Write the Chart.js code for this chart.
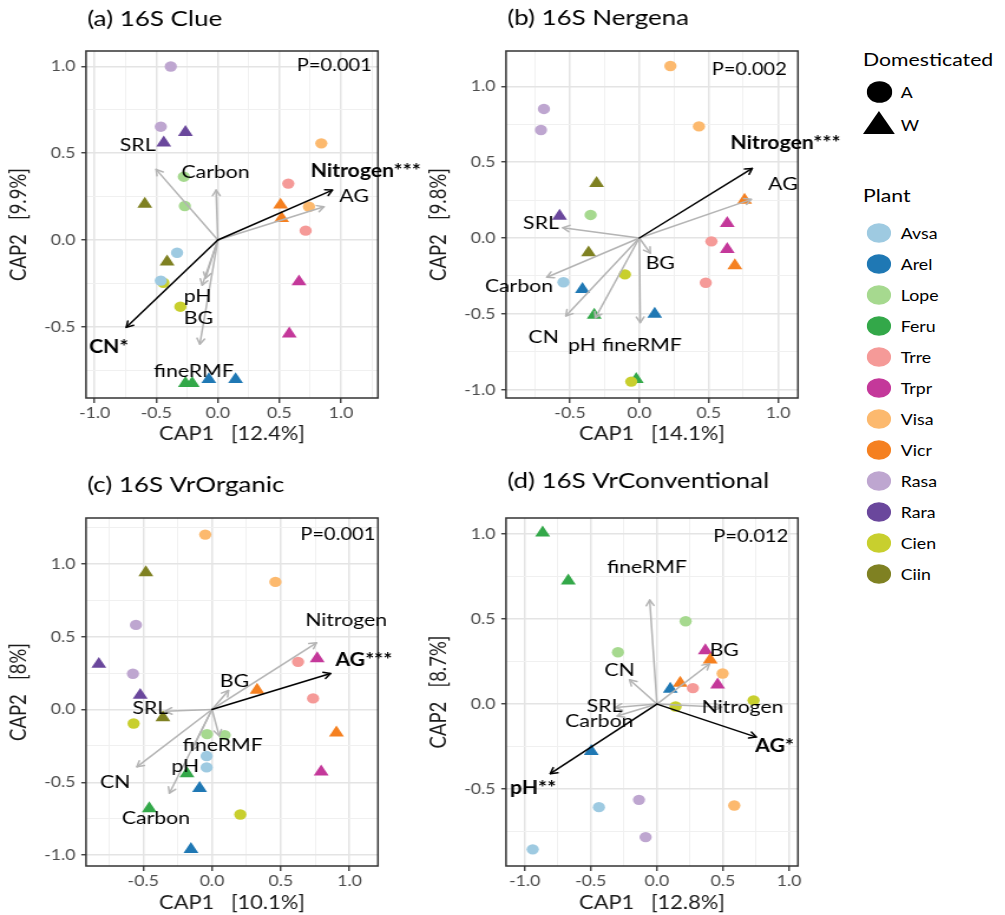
<!DOCTYPE html>
<html>
<head>
<meta charset="utf-8">
<title>16S CAP biplots</title>
<script src="https://cdn.jsdelivr.net/npm/chart.js@4.4.1/dist/chart.umd.min.js"></script>
<style>
  html, body { margin: 0; padding: 0; background: #ffffff; }
  body { width: 1005px; height: 915px; position: relative; overflow: hidden; font-family: Lato, "Open Sans", sans-serif; }
  /* the whole figure is drawn at a 1.18 horizontal aspect */
  .wide { position: absolute; transform: scaleX(1.18); transform-origin: 0 0; }
  .wide canvas { display: block; }
  .leg-title { position: absolute; font-size: 18px; color: #000; line-height: 22px; white-space: nowrap; }
  .leg-text { position: absolute; font-size: 15px; color: #000; line-height: 18px; white-space: nowrap; }
  .leg-key { position: absolute; }
</style>
</head>
<body>
<div class="wide" style="left:0px;top:0px"><canvas id="panelA" width="373" height="446"></canvas></div>
<div class="wide" style="left:420px;top:0px"><canvas id="panelB" width="373" height="446"></canvas></div>
<div class="wide" style="left:0px;top:460px"><canvas id="panelC" width="373" height="455"></canvas></div>
<div class="wide" style="left:420px;top:460px"><canvas id="panelD" width="373" height="455"></canvas></div>
<div class="wide" id="legend" style="left:863px;top:0px;width:120px;height:620px"></div>

<script>
// ---- plants and their colours ----
const plants = ['Avsa', 'Arel', 'Lope', 'Feru', 'Trre', 'Trpr', 'Visa', 'Vicr', 'Rasa', 'Rara', 'Cien', 'Ciin'];
const domesticated = ['A', 'W', 'A', 'W', 'A', 'W', 'A', 'W', 'A', 'W', 'A', 'W'];
const plantColours = ['#9ecae1', '#1f78b4', '#a6d98f', '#33a849', '#f59a98', '#c4389a',
                      '#fcb96e', '#f58020', '#bea6d0', '#6a479c', '#c8cf2e', '#7f8122'];
const domesticationLevels = ['A', 'W'];

// ---- (a) 16S Clue ----
const clueCap1 = [-0.382, -0.463, -0.263, -0.439, 0.84, 0.74, -0.276, -0.268, -0.593, -0.412, 0.572, 0.713,
                  0.509, 0.518, -0.442, -0.304, -0.331, -0.463, 0.659, 0.58, -0.263, -0.208, -0.073, 0.144];
const clueCap2 = [1.0, 0.653, 0.62, 0.56, 0.557, 0.192, 0.365, 0.196, 0.207, -0.125, 0.325, 0.054,
                  0.202, 0.125, -0.246, -0.384, -0.073, -0.234, -0.24, -0.54, -0.826, -0.826, -0.803, -0.803];
const cluePlant = ['Rasa', 'Rasa', 'Rara', 'Rara', 'Visa', 'Visa', 'Lope', 'Lope', 'Ciin', 'Ciin', 'Trre', 'Trre',
                   'Vicr', 'Vicr', 'Cien', 'Cien', 'Avsa', 'Avsa', 'Trpr', 'Trpr', 'Feru', 'Feru', 'Arel', 'Arel'];
const clueVectors = ['SRL', 'Carbon', 'Nitrogen***', 'AG', 'CN*', 'pH', 'BG', 'fineRMF'];
const clueVecCap1 = [-0.501, -0.014, 0.93, 0.862, -0.743, -0.127, -0.146, -0.10];
const clueVecCap2 = [0.407, 0.288, 0.288, 0.192, -0.503, -0.26, -0.6, -0.22];
const clueLabelCap1 = [-0.65, -0.019, 1.2, 1.106, -0.886, -0.163, -0.157, -0.195];
const clueLabelCap2 = [0.544, 0.388, 0.394, 0.254, -0.615, -0.323, -0.451, -0.753];

// ---- (b) 16S Nergena ----
const nergenaCap1 = [0.224, 0.43, -0.688, -0.709, -0.308, -0.366, -0.351, -0.575, 0.759, 0.689, 0.634, 0.634,
                     0.52, 0.479, -0.547, -0.41, 0.111, -0.325, -0.022, -0.104, -0.058];
const nergenaCap2 = [1.134, 0.736, 0.851, 0.712, 0.36, -0.097, 0.152, 0.145, 0.25, -0.182, 0.097, -0.075,
                     -0.022, -0.295, -0.292, -0.338, -0.501, -0.508, -0.932, -0.24, -0.947];
const nergenaPlant = ['Visa', 'Visa', 'Rasa', 'Rasa', 'Ciin', 'Ciin', 'Lope', 'Rara', 'Vicr', 'Vicr', 'Trpr', 'Trpr',
                      'Trre', 'Trre', 'Avsa', 'Arel', 'Arel', 'Feru', 'Feru', 'Cien', 'Cien'];
const nergenaVectors = ['Nitrogen***', 'AG', 'SRL', 'Carbon', 'CN', 'pH', 'fineRMF', 'BG'];
const nergenaVecCap1 = [0.814, 0.807, -0.552, -0.667, -0.53, -0.317, 0.007, 0.079];
const nergenaVecCap2 = [0.459, 0.255, 0.068, -0.259, -0.514, -0.527, -0.558, -0.1];
const nergenaLabelCap1 = [1.053, 1.036, -0.709, -0.868, -0.69, -0.413, 0.019, 0.151];
const nergenaLabelCap2 = [0.624, 0.354, 0.097, -0.321, -0.657, -0.705, -0.705, -0.167];

// ---- (c) 16S VrOrganic ----
const organicCap1 = [-0.049, 0.461, -0.481, -0.357, -0.553, -0.575, -0.823, -0.522, 0.626, 0.735, 0.765, 0.794,
                     0.328, 0.905, -0.57, 0.206, -0.036, 0.092, -0.039, -0.039, -0.182, -0.456, -0.09, -0.153];
const organicCap2 = [1.201, 0.876, 0.94, -0.055, 0.581, 0.245, 0.311, 0.098, 0.327, 0.076, 0.35, -0.428,
                     0.133, -0.16, -0.096, -0.721, -0.169, -0.176, -0.32, -0.398, -0.44, -0.68, -0.542, -0.961];
const organicPlant = ['Visa', 'Visa', 'Ciin', 'Ciin', 'Rasa', 'Rasa', 'Rara', 'Rara', 'Trre', 'Trre', 'Trpr', 'Trpr',
                      'Vicr', 'Vicr', 'Cien', 'Cien', 'Lope', 'Lope', 'Avsa', 'Avsa', 'Feru', 'Feru', 'Arel', 'Arel'];
const organicVectors = ['Nitrogen', 'AG***', 'BG', 'SRL', 'fineRMF', 'pH', 'CN', 'Carbon'];
const organicVecCap1 = [0.76, 0.862, 0.12, -0.34, 0.052, -0.146, -0.546, -0.31];
const organicVecCap2 = [0.458, 0.247, 0.13, -0.012, -0.18, -0.279, -0.394, -0.575];
const organicLabelCap1 = [0.976, 1.104, 0.163, -0.449, 0.078, -0.194, -0.704, -0.408];
const organicLabelCap2 = [0.613, 0.339, 0.197, 0.007, -0.245, -0.389, -0.497, -0.744];

// ---- (d) 16S VrConventional ----
const conventionalCap1 = [-0.865, -0.671, 0.217, -0.295, 0.366, 0.403, 0.176, 0.101, 0.272, 0.459, 0.497, 0.585,
                          0.731, 0.141, -0.497, -0.136, -0.086, -0.439, -0.94];
const conventionalCap2 = [1.007, 0.725, 0.487, 0.305, 0.315, 0.26, 0.123, 0.088, 0.094, 0.113, 0.18, -0.596,
                          0.022, -0.014, -0.278, -0.563, -0.782, -0.606, -0.854];
const conventionalPlant = ['Feru', 'Feru', 'Lope', 'Lope', 'Trpr', 'Vicr', 'Vicr', 'Arel', 'Trre', 'Trpr', 'Visa', 'Visa',
                           'Cien', 'Cien', 'Arel', 'Rasa', 'Rasa', 'Avsa', 'Avsa'];
const conventionalVectors = ['fineRMF', 'BG', 'CN', 'SRL', 'Carbon', 'Nitrogen', 'AG*', 'pH**'];
const conventionalVecCap1 = [-0.055, 0.398, -0.207, -0.315, -0.3, 0.49, 0.751, -0.807];
const conventionalVecCap2 = [0.612, 0.237, 0.143, -0.02, -0.07, -0.018, -0.194, -0.409];
const conventionalLabelCap1 = [-0.076, 0.509, -0.282, -0.396, -0.436, 0.648, 0.89, -0.938];
const conventionalLabelCap2 = [0.807, 0.315, 0.197, -0.014, -0.102, -0.018, -0.248, -0.493];

// ---- panel settings ----
const panels = [
  { id: 'panelA', title: '(a) 16S Clue', titleY: 19, pText: 'P=0.001', pAt: [0.945, 1.003],
    xTitle: 'CAP1   [12.4%]', yTitle: 'CAP2   [9.9%]', xRange: [-1.07, 1.30], yRange: [-0.91, 1.089],
    top: 51, bottom: 398,
    cap1: clueCap1, cap2: clueCap2, plant: cluePlant,
    vectors: clueVectors, vx: clueVecCap1, vy: clueVecCap2, lx: clueLabelCap1, ly: clueLabelCap2 },
  { id: 'panelB', title: '(b) 16S Nergena', titleY: 18, pText: 'P=0.002', pAt: [0.793, 1.112],
    xTitle: 'CAP1   [14.1%]', yTitle: 'CAP2   [9.8%]', xRange: [-0.961, 1.144], yRange: [-1.055, 1.233],
    top: 51, bottom: 398,
    cap1: nergenaCap1, cap2: nergenaCap2, plant: nergenaPlant,
    vectors: nergenaVectors, vx: nergenaVecCap1, vy: nergenaVecCap2, lx: nergenaLabelCap1, ly: nergenaLabelCap2 },
  { id: 'panelC', title: '(c) 16S VrOrganic', titleY: 25, pText: 'P=0.001', pAt: [0.915, 1.203],
    xTitle: 'CAP1   [10.1%]', yTitle: 'CAP2   [8%]', xRange: [-0.916, 1.207], yRange: [-1.075, 1.315],
    top: 58, bottom: 406,
    cap1: organicCap1, cap2: organicCap2, plant: organicPlant,
    vectors: organicVectors, vx: organicVecCap1, vy: organicVecCap2, lx: organicLabelCap1, ly: organicLabelCap2 },
  { id: 'panelD', title: '(d) 16S VrConventional', titleY: 21, pText: 'P=0.012', pAt: [0.71, 0.987],
    xTitle: 'CAP1   [12.8%]', yTitle: 'CAP2   [8.7%]', xRange: [-1.142, 1.067], yRange: [-0.952, 1.094],
    top: 58, bottom: 406,
    cap1: conventionalCap1, cap2: conventionalCap2, plant: conventionalPlant,
    vectors: conventionalVectors, vx: conventionalVecCap1, vy: conventionalVecCap2, lx: conventionalLabelCap1, ly: conventionalLabelCap2 }
];

// canvas-space (unstretched) plot edges
const PLOT_LEFT = 72.9;
const PLOT_RIGHT = 320.3;
const FONT = 'Lato, "Open Sans", sans-serif';

const isMajor = v => Math.abs(v * 2 - Math.round(v * 2)) < 1e-6;
const fmtTick = v => { const r = Math.round(v * 2) / 2; return (r === 0 ? 0 : r).toFixed(1); };

function colourOf(name) { return plantColours[plants.indexOf(name)]; }
function shapeOf(name) { return domesticated[plants.indexOf(name)] === 'A' ? 'circle' : 'triangle'; }

function drawArrow(ctx, x0, y0, x1, y1, colour, width) {
  ctx.save();
  ctx.strokeStyle = colour;
  ctx.lineWidth = width;
  ctx.lineCap = 'round';
  ctx.lineJoin = 'round';
  ctx.beginPath();
  ctx.moveTo(x0, y0);
  ctx.lineTo(x1, y1);
  ctx.stroke();
  const a = Math.atan2(y1 - y0, x1 - x0), len = 6.5, spread = Math.PI / 6;
  ctx.beginPath();
  ctx.moveTo(x1 - len * Math.cos(a - spread), y1 - len * Math.sin(a - spread));
  ctx.lineTo(x1, y1);
  ctx.lineTo(x1 - len * Math.cos(a + spread), y1 - len * Math.sin(a + spread));
  ctx.stroke();
  ctx.restore();
}

// Frame, environmental vectors with labels, panel title and permutation P value
const biplotPlugin = {
  id: 'biplot',
  beforeDatasetsDraw(chart) {
    const { ctx, chartArea: ca } = chart;
    ctx.save();
    ctx.strokeStyle = '#333333';
    ctx.lineWidth = 1.5;
    ctx.strokeRect(ca.left, ca.top, ca.right - ca.left, ca.bottom - ca.top);
    ctx.restore();
  },
  afterDatasetsDraw(chart) {
    const p = chart.options.plugins.biplot.panel;
    const { ctx } = chart;
    const xs = chart.scales.x, ys = chart.scales.y;
    const ox = xs.getPixelForValue(0), oy = ys.getPixelForValue(0);
    // grey vectors first, significant (black) ones on top
    const order = p.vectors.map((n, i) => i).sort((a, b) =>
      (p.vectors[a].includes('*') ? 1 : 0) - (p.vectors[b].includes('*') ? 1 : 0));
    order.forEach(i => {
      const sig = p.vectors[i].includes('*');
      drawArrow(ctx, ox, oy, xs.getPixelForValue(p.vx[i]), ys.getPixelForValue(p.vy[i]),
        sig ? '#000000' : '#b4b4b4', 1.5);
    });
    ctx.save();
    ctx.textAlign = 'center';
    ctx.textBaseline = 'middle';
    p.vectors.forEach((name, i) => {
      const sig = name.includes('*');
      ctx.font = (sig ? 'bold ' : '') + '18px ' + FONT;
      ctx.fillStyle = '#000000';
      ctx.fillText(name, xs.getPixelForValue(p.lx[i]), ys.getPixelForValue(p.ly[i]));
    });
    ctx.restore();
  },
  afterDraw(chart) {
    const p = chart.options.plugins.biplot.panel;
    const { ctx, chartArea: ca } = chart;
    const xs = chart.scales.x, ys = chart.scales.y;
    ctx.save();
    ctx.fillStyle = '#000000';
    ctx.textBaseline = 'middle';
    ctx.textAlign = 'left';
    ctx.font = '22px ' + FONT;
    ctx.fillText(p.title, ca.left + 1, p.titleY);
    ctx.textAlign = 'center';
    ctx.font = '17px ' + FONT;
    ctx.fillText(p.pText, xs.getPixelForValue(p.pAt[0]), ys.getPixelForValue(p.pAt[1]));
    ctx.restore();
  }
};

function axis(range, title, horizontal, p, canvasHeight) {
  return {
    type: 'linear',
    min: range[0],
    max: range[1],
    afterFit: horizontal
      ? s => { s.height = canvasHeight - p.bottom; }
      : s => { s.width = PLOT_LEFT; },
    ticks: {
      stepSize: 0.25,
      includeBounds: false,
      autoSkip: false,
      maxRotation: 0,
      minRotation: 0,
      color: '#4d4d4d',
      padding: horizontal ? 1 : 5,
      font: { family: FONT, size: 15 },
      callback: v => isMajor(v) ? fmtTick(v) : ''
    },
    grid: {
      color: c => isMajor(c.tick.value) ? '#e4e4e4' : '#f0f0f0',
      lineWidth: c => isMajor(c.tick.value) ? 1.5 : 1,
      drawTicks: true,
      tickLength: horizontal ? 5 : 4,
      tickWidth: 1.3,
      tickColor: c => isMajor(c.tick.value) ? '#333333' : 'rgba(0,0,0,0)'
    },
    border: { display: false },
    title: {
      display: true,
      text: title,
      color: '#1a1a1a',
      font: { family: FONT, size: 18.5 },
      padding: horizontal ? { top: 0, bottom: 0.9 } : { top: 5, bottom: 0 }
    }
  };
}

panels.forEach(p => {
  const canvas = document.getElementById(p.id);
  const pts = p.cap1.map((x, i) => ({ x, y: p.cap2[i] }));
  const colours = p.plant.map(colourOf);
  const shapes = p.plant.map(shapeOf);
  new Chart(canvas, {
    type: 'scatter',
    data: {
      datasets: [{
        data: pts,
        pointStyle: shapes,
        pointRadius: shapes.map(s => s === 'circle' ? 5.2 : 7.3),
        pointBackgroundColor: colours,
        pointBorderWidth: 0,
        pointBorderColor: 'rgba(0,0,0,0)',
        clip: false
      }]
    },
    options: {
      responsive: false,
      animation: false,
      events: [],
      layout: { padding: { left: 0, top: p.top, right: canvas.width - PLOT_RIGHT, bottom: 0 } },
      scales: {
        x: axis(p.xRange, p.xTitle, true, p, canvas.height),
        y: axis(p.yRange, p.yTitle, false, p, canvas.height)
      },
      plugins: {
        legend: { display: false },
        tooltip: { enabled: false },
        biplot: { panel: p }
      }
    },
    plugins: [biplotPlugin]
  });
});

// ---- legend: domestication shapes and plant colours ----
(function buildLegend() {
  const legend = document.getElementById('legend');
  const keyX = 13.6, textX = 32;
  const add = (cls, text, left, centreY, lh) => {
    const d = document.createElement('div');
    d.className = cls;
    d.textContent = text;
    d.style.left = left + 'px';
    d.style.top = (centreY - lh / 2) + 'px';
    legend.appendChild(d);
  };
  const svgKey = (inner, left, top, w, h) => {
    const d = document.createElement('div');
    d.className = 'leg-key';
    d.style.left = left + 'px';
    d.style.top = top + 'px';
    d.innerHTML = '<svg width="' + w + '" height="' + h + '">' + inner + '</svg>';
    legend.appendChild(d);
  };
  add('leg-title', 'Domesticated', 0, 59, 22);
  domesticationLevels.forEach((lvl, i) => {
    const cy = 92 + i * 33;
    if (lvl === 'A') {
      svgKey('<circle cx="11" cy="11" r="10.8" fill="#000"/>', keyX - 11, cy - 11, 22, 22);
    } else {
      svgKey('<polygon points="13.5,0 27,23 0,23" fill="#000"/>', keyX - 13.5, cy - 14, 27, 23);
    }
    add('leg-text', lvl, textX, cy, 18);
  });
  add('leg-title', 'Plant', 0, 195, 22);
  plants.forEach((name, i) => {
    const cy = 233 + i * 31;
    svgKey('<ellipse cx="10.5" cy="10" rx="10.3" ry="9.8" fill="' + plantColours[i] + '"/>', keyX - 10.5, cy - 10, 21, 20);
    add('leg-text', name, textX, cy, 18);
  });
})();
</script>
</body>
</html>
